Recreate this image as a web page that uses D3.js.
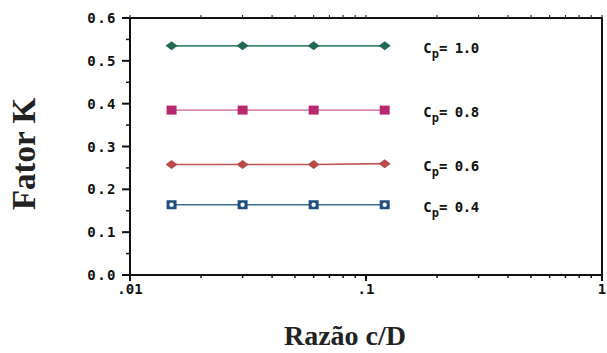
<!DOCTYPE html>
<html>
<head>
<meta charset="utf-8">
<script src="https://cdn.jsdelivr.net/npm/d3@7"></script>
<style>
  body { margin: 0; background: #fff; }
  svg { display: block; }
  .tick-label { font-family: "DejaVu Sans Mono", monospace; font-weight: bold; font-size: 14px; fill: #111; }
  .axis-title { font-family: "Liberation Serif", "Times New Roman", serif; font-weight: bold; fill: #222; }
</style>
</head>
<body>
<svg id="chart" width="607" height="353"></svg>
<script>
// Данные графика: ось X — отношение c/D (логарифмическая шкала)
const razao = [0.015, 0.03, 0.06, 0.12];
const cpLabels = ["1.0", "0.8", "0.6", "0.4"];
const fatorCp10 = [0.535, 0.535, 0.535, 0.535];
const fatorCp08 = [0.385, 0.385, 0.385, 0.385];
const fatorCp06 = [0.258, 0.258, 0.258, 0.260];
const fatorCp04 = [0.164, 0.164, 0.164, 0.164];
const yTicks = [0.0, 0.1, 0.2, 0.3, 0.4, 0.5, 0.6];
const xTicks = [0.01, 0.1, 1];
const xTickLabels = [".01", ".1", "1"];

const series = [
  {cp: cpLabels[0], values: fatorCp10, color: "#1f6a50", line: "#3f8a6a", shape: "diamond"},
  {cp: cpLabels[1], values: fatorCp08, color: "#b8286e", line: "#d889b8", shape: "square"},
  {cp: cpLabels[2], values: fatorCp06, color: "#b84a4a", line: "#c05656", shape: "diamond"},
  {cp: cpLabels[3], values: fatorCp04, color: "#1f4f7e", line: "#3e6c94", shape: "openSquare"}
];

const svg = d3.select("#chart");
const margin = {top: 18, right: 5, bottom: 78, left: 130};
const width = 607 - margin.left - margin.right;
const height = 353 - margin.top - margin.bottom;

const chart = svg.append("g").attr("transform", `translate(${margin.left},${margin.top})`);

const scaleX = d3.scaleLog().domain([0.01, 1]).range([0, width]);
const scaleY = d3.scaleLinear().domain([0, 0.6]).range([height, 0]);

// Малые деления логарифмической шкалы
const minorX = [];
for (const dec of [0.01, 0.1]) {
  for (let k = 2; k <= 9; k++) minorX.push(dec * k);
}
const minorY = yTicks.slice(0, -1).map(v => v + 0.05);

// Рамка
chart.append("rect")
  .attr("width", width).attr("height", height)
  .attr("fill", "none").attr("stroke", "#111").attr("stroke-width", 2);

// Ось Y
const yAxis = chart.append("g");
yAxis.selectAll(".maj").data(yTicks).enter().append("line")
  .attr("x1", -8).attr("x2", 0)
  .attr("y1", d => scaleY(d)).attr("y2", d => scaleY(d))
  .attr("stroke", "#111").attr("stroke-width", 2);
yAxis.selectAll(".min").data(minorY).enter().append("line")
  .attr("x1", -4).attr("x2", 0)
  .attr("y1", d => scaleY(d)).attr("y2", d => scaleY(d))
  .attr("stroke", "#111").attr("stroke-width", 1.5);
yAxis.selectAll("text").data(yTicks).enter().append("text")
  .attr("class", "tick-label")
  .attr("x", -13).attr("y", d => scaleY(d))
  .attr("dy", "0.36em").attr("text-anchor", "end")
  .attr("letter-spacing", 1.5)
  .text(d => d.toFixed(1));

// Ось X
const xAxis = chart.append("g").attr("transform", `translate(0,${height})`);
xAxis.selectAll(".maj").data(xTicks).enter().append("line")
  .attr("x1", d => scaleX(d)).attr("x2", d => scaleX(d))
  .attr("y1", 0).attr("y2", 6)
  .attr("stroke", "#111").attr("stroke-width", 2);
xAxis.selectAll(".min").data(minorX).enter().append("line")
  .attr("x1", d => scaleX(d)).attr("x2", d => scaleX(d))
  .attr("y1", 0).attr("y2", 3)
  .attr("stroke", "#111").attr("stroke-width", 1.5);
xAxis.selectAll("text").data(xTicks).enter().append("text")
  .attr("class", "tick-label")
  .attr("x", d => scaleX(d)).attr("y", 19)
  .attr("text-anchor", "middle")
  .text((d, i) => xTickLabels[i]);

// Верхние малые деления
chart.append("g").selectAll("line").data(minorX.concat(xTicks)).enter().append("line")
  .attr("x1", d => scaleX(d)).attr("x2", d => scaleX(d))
  .attr("y1", 0).attr("y2", -3)
  .attr("stroke", "#333").attr("stroke-width", 1.2);

// Линии и маркеры серий
const line = d3.line()
  .x((d, i) => scaleX(razao[i]))
  .y(d => scaleY(d));

// Ромб шире, чем выше — как в оригинале
const marker = {
  diamond: "M-6,0L0,-4.5L6,0L0,4.5Z",
  square: "M-5,-4.5H5V4.5H-5Z",
  openSquare: "M-5,-4.5H5V4.5H-5Z"
};

for (const s of series) {
  chart.append("path")
    .datum(s.values)
    .attr("fill", "none")
    .attr("stroke", s.line)
    .attr("stroke-width", 1.6)
    .attr("d", line);

  const pts = chart.selectAll(null).data(s.values).enter().append("g")
    .attr("transform", (d, i) => `translate(${scaleX(razao[i])},${scaleY(d)})`);
  pts.append("path")
    .attr("d", marker[s.shape])
    .attr("fill", s.color);
  if (s.shape === "openSquare") {
    pts.append("circle").attr("r", 2.2).attr("fill", "#fff");
  }

  // Подпись серии
  const lbl = chart.append("text")
    .attr("class", "tick-label")
    .attr("x", scaleX(0.175))
    .attr("y", scaleY(s.values[s.values.length - 1]) + 7);
  lbl.append("tspan").text("C");
  lbl.append("tspan").attr("dy", 5).attr("font-size", 12).text("p");
  lbl.append("tspan").attr("dy", -5).attr("letter-spacing", -0.5).text("= " + s.cp);
}

// Названия осей
svg.append("text")
  .attr("class", "axis-title")
  .attr("font-size", 33)
  .attr("transform", `translate(35,${154}) rotate(-90)`)
  .attr("text-anchor", "middle")
  .text("Fator K");

svg.append("text")
  .attr("class", "axis-title")
  .attr("font-size", 28)
  .attr("x", 345).attr("y", 345)
  .attr("text-anchor", "middle")
  .text("Razão c/D");
</script>
</body>
</html>
